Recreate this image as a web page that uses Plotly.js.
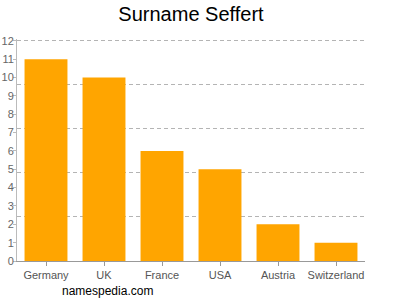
<!DOCTYPE html>
<html><head><meta charset="utf-8">
<script src="https://cdn.plot.ly/plotly-3.0.1.min.js"></script>
<style>body{margin:0}#c{width:400px;height:300px}</style>
</head><body><div id="c"></div>
<script>
const countries = ["Germany","UK","France","USA","Austria","Switzerland"];
const counts = [11,10,6,5,2,1];
const yTicks = [0,1,2,3,4,5,6,7,8,9,10,11,12];
const gridVals = [2.4,4.8,7.2,9.6,12];

const traces = [{
  type:'bar', x:countries, y:counts,
  marker:{color:'#FFA500', line:{color:'#FFB84D', width:0}},
  hoverinfo:'none'
},{
  type:'scatter', x:countries, y:counts, yaxis:'y2', mode:'markers',
  marker:{opacity:0}, hoverinfo:'none', showlegend:false
}];

const layout = {
  width:400, height:300,
  margin:{l:17, r:35, t:39, b:39},
  paper_bgcolor:'#fff', plot_bgcolor:'#fff',
  showlegend:false, bargap:0.26,
  font:{family:'"Liberation Sans", Arial, sans-serif', color:'#555', size:11},
  title:{text:'Surname Seffert', xref:'paper', x:0.5, xanchor:'center', y:0.955, yanchor:'middle',
         font:{size:20, color:'#000'}},
  xaxis:{range:[-0.5,5.5], showline:true, linecolor:'#999', linewidth:1,
         ticks:'outside', ticklen:4, tickcolor:'#999', showgrid:false, zeroline:false,
         tickfont:{size:11, color:'#555'}, fixedrange:true},
  yaxis:{range:[0,12.1], tickvals:yTicks, ticktext:yTicks.map(String),
         showline:true, linecolor:'#bbb', linewidth:1, ticks:'outside', ticklen:3, tickcolor:'#bbb',
         ticklabelstandoff:-3,
         showgrid:false, zeroline:false, tickfont:{size:11, color:'#666'}, fixedrange:true},
  yaxis2:{overlaying:'y', range:[0,12.1], tickvals:gridVals, showgrid:true,
          gridcolor:'#b4b4b4', griddash:'4px,3px', gridwidth:1,
          showticklabels:false, ticks:'', zeroline:false, showline:false, fixedrange:true},
  annotations:[{text:'namespedia.com', xref:'paper', yref:'paper', x:0.124, y:-0.136,
                xanchor:'left', yanchor:'middle', showarrow:false,
                font:{size:12, color:'#000'}}]
};
Plotly.newPlot('c', traces, layout, {displayModeBar:false, staticPlot:true});
</script></body></html>
